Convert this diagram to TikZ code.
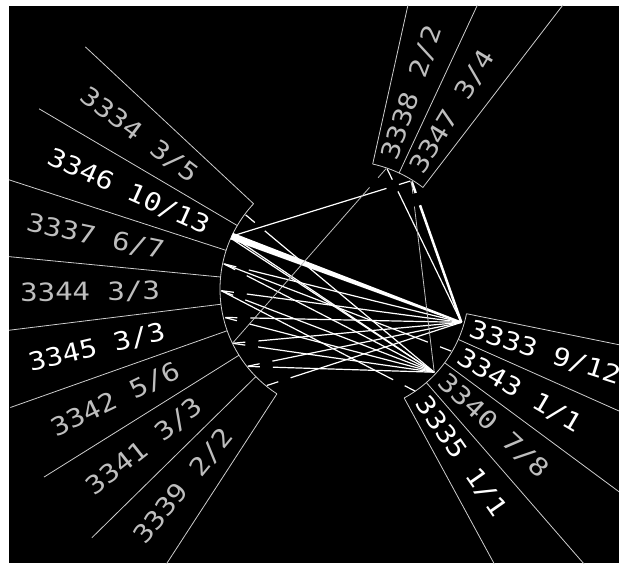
\documentclass[tikz,border=0pt]{standalone}
\usepackage{fontspec}
\usetikzlibrary{calc}
\newfontfamily\tagfont{DejaVu Sans Mono}
\definecolor{rimgrey}{RGB}{205,205,205}
\definecolor{taggrey}{RGB}{190,190,190}
% chord with a short dash at the target end
\newcommand{\chordto}[3][]{%
  \draw[chord,#1] (#2) -- ($(#3)!26pt!(#2)$);
  \draw[chord,#1] ($(#3)!13pt!(#2)$) -- ($(#3)!1pt!(#2)$);}

\begin{document}
\begin{tikzpicture}[x=1pt, y=1pt,
  rim/.style={rimgrey, line width=0.8pt},
  tag/.style={font=\fontsize{25}{25}\tagfont, text=taggrey, inner sep=0pt,
    anchor=west, rotate=#1, xscale=1.16},
  hottag/.style={tag=#1, text=white},
  chord/.style={white, line width=1.2pt},
  faint/.style={taggrey, line width=0.8pt}]

  \useasboundingbox (0,0) rectangle (619,563);
  \fill[white] (0,0) rectangle (619,563);
  \clip (9,0) rectangle (619,557);
  \fill[black] (9,0) rectangle (619,557);
  \coordinate (c) at (345,274);

  % ---- wedges: left, top, right ----
  \foreach \a in {137,149.5,...,237}
    \draw[rim] ($(c)+(\a:125)$) -- ($(c)+(\a:355)$);
  \draw[rim] ($(c)+(137:125)$) arc[start angle=137, end angle=237, radius=125];
  \foreach \a in {52.5,65,77.5}
    \draw[rim] ($(c)+(\a:128)$) -- ($(c)+(\a:380)$);
  \draw[rim] ($(c)+(77.5:128)$) arc[start angle=77.5, end angle=52.5, radius=128];
  \foreach \a in {-11.5,-24,...,-61.5}
    \draw[rim] ($(c)+(\a:124)$) -- ($(c)+(\a:380)$);
  \draw[rim] ($(c)+(-11.5:124)$) arc[start angle=-11.5, end angle=-61.5, radius=124];

  % ---- labels ----
  \node[tag=-36.75] (t3334) at ($(c)+(143.25:327)$) {3334 3/5};
  \node[hottag=-24.25] (t3346) at ($(c)+(155.75:325)$) {3346 10/13};
  \node[tag=-11.75] (t3337) at ($(c)+(168.25:325)$) {3337 6/7};
  \node[tag=0.75] (t3344) at ($(c)+(180.75:325)$) {3344 3/3};
  \node[hottag=13.25] (t3345) at ($(c)+(193.25:325)$) {3345 3/3};
  \node[tag=25.75] (t3342) at ($(c)+(205.75:325)$) {3342 5/6};
  \node[tag=38.25] (t3341) at ($(c)+(218.25:325)$) {3341 3/3};
  \node[tag=50.75] (t3339) at ($(c)+(230.75:325)$) {3339 2/2};
  \node[tag=71.25] (t3338) at ($(c)+(71.25:137)$) {3338 2/2};
  \node[tag=58.75] (t3347) at ($(c)+(58.75:137)$) {3347 3/4};
  \node[hottag=-17.75] (t3333) at ($(c)+(-17.75:131)$) {3333 9/12};
  \node[hottag=-30.25] (t3343) at ($(c)+(-30.25:132)$) {3343 1/1};
  \node[tag=-42.75] (t3340) at ($(c)+(-42.75:132)$) {3340 7/8};
  \node[hottag=-55.25] (t3335) at ($(c)+(-55.25:134)$) {3335 1/1};

  % ---- chord ends on the rims ----
  \coordinate (p3334) at ($(c)+(143.25:125)$);
  \coordinate (p3346) at ($(c)+(155:125)$);
  \coordinate (p3337) at ($(c)+(168.25:124)$);
  \coordinate (p3344) at ($(c)+(180.75:124)$);
  \coordinate (p3345) at ($(c)+(193.25:124)$);
  \coordinate (p3342) at ($(c)+(205.75:125)$);
  \coordinate (p3341) at ($(c)+(218.25:125)$);
  \coordinate (p3339) at ($(c)+(230.75:125)$);
  \coordinate (p3338) at ($(c)+(71:128)$);
  \coordinate (p3347) at ($(c)+(58.5:127)$);
  \coordinate (p3333) at ($(c)+(-16:121)$);
  \coordinate (p3343) at ($(c)+(-30.25:124)$);
  \coordinate (p3340) at ($(c)+(-43:122)$);
  \coordinate (p3335) at ($(c)+(-55.25:125)$);

  % ---- chords ----
  \fill[white] ($(p3346)!3.5pt!90:(p3333)$) -- ($(p3346)!3.5pt!-90:(p3333)$)
    -- ($(p3333)!1pt!90:(p3346)$) -- ($(p3333)!1pt!-90:(p3346)$) -- cycle;
  \draw[chord] (p3346) -- (p3340);
  \draw[chord] ($(p3346)+(2,-4)$) -- (p3340);
  \chordto{p3333}{p3337}
  \chordto{p3333}{p3344}
  \chordto{p3333}{p3345}
  \chordto{p3333}{p3342}
  \chordto{p3333}{p3341}
  \chordto{p3333}{p3339}
  \chordto{p3340}{p3334}
  \chordto{p3340}{p3337}
  \chordto{p3340}{p3344}
  \chordto{p3340}{p3345}
  \chordto{p3340}{p3342}
  \chordto{p3340}{p3341}
  \chordto[line width=2.5pt]{p3333}{p3347}
  \chordto{p3333}{p3338}
  \chordto[faint]{p3340}{p3347}
  \chordto{p3346}{p3347}
  \chordto[faint]{p3342}{p3338}
  \chordto{p3337}{p3343}
  \chordto{p3344}{p3335}

\end{tikzpicture}
\end{document}
